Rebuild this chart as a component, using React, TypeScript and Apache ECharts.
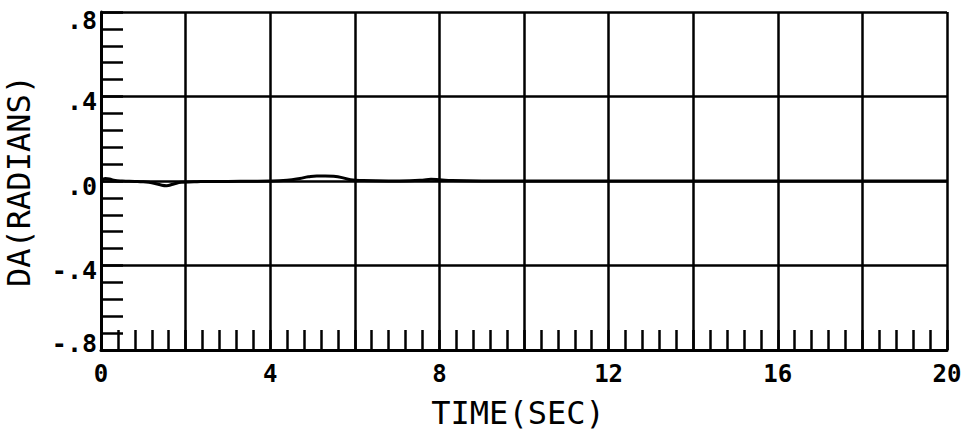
import React, { useEffect, useRef } from "react";
import * as echarts from "echarts";

const timeSec = [0, 0.1, 0.2, 0.3, 0.5, 0.8, 1.0, 1.2, 1.4, 1.55, 1.7, 1.9, 2.2, 2.6, 3.0, 3.5, 4.0, 4.4, 4.7, 4.9, 5.1, 5.3, 5.5, 5.7, 5.9, 6.2, 6.8, 7.3, 7.6, 7.8, 8.0, 8.3, 9, 10, 12, 14, 16, 18, 20];
const daRadians = [0, 0.012, 0.01, 0.004, 0.0, -0.002, -0.004, -0.008, -0.018, -0.022, -0.015, -0.006, -0.004, -0.002, -0.002, -0.001, 0, 0.004, 0.012, 0.02, 0.024, 0.024, 0.022, 0.016, 0.006, 0.002, 0, 0.001, 0.004, 0.008, 0.006, 0.002, 0, 0, 0, 0, 0, 0, 0];
const xLabelled = [0, 4, 8, 12, 16, 20];

const FONT = "'DejaVu Sans Mono', monospace";

export default function App() {
  const ref = useRef<HTMLDivElement>(null);
  useEffect(() => {
    if (!ref.current) return;
    const chart = echarts.init(ref.current, null, { renderer: "svg" });
    const lineStyle = { color: "#000", width: 2.5 };
    const labelStyle = { fontFamily: FONT, fontSize: 25, fontWeight: "bold", color: "#000" };
    chart.setOption({
      animation: false,
      backgroundColor: "#fff",
      grid: { left: 101, right: 19, top: 12, bottom: 81, outerBoundsMode: "none", containLabel: false },
      xAxis: {
        type: "value",
        min: 0,
        max: 20,
        interval: 2,
        name: "TIME(SEC)",
        nameLocation: "middle",
        nameGap: 47,
        nameTextStyle: { fontFamily: FONT, fontSize: 32, color: "#000", padding: [0, 12, 0, 0] },
        axisLine: { show: true, onZero: false, lineStyle: { color: "#000", width: 3 } },
        axisTick: { show: true, inside: true, length: 20, lineStyle },
        minorTick: { show: true, splitNumber: 5, length: 20, lineStyle },
        splitLine: { show: true, lineStyle },
        axisLabel: {
          ...labelStyle,
          fontSize: 24,
          margin: 12,
          formatter: (v: number) => (xLabelled.includes(Math.round(v)) ? String(Math.round(v)) : ""),
        },
      },
      yAxis: {
        type: "value",
        min: -0.8,
        max: 0.8,
        interval: 0.4,
        name: "DA(RADIANS)",
        nameLocation: "middle",
        nameGap: 66,
        nameTextStyle: { fontFamily: FONT, fontSize: 32, color: "#000" },
        axisLine: { show: true, lineStyle: { color: "#000", width: 3 } },
        axisTick: { show: true, inside: true, length: 22, lineStyle },
        minorTick: { show: true, splitNumber: 5, length: 22, lineStyle },
        splitLine: { show: true, lineStyle },
        axisLabel: {
          ...labelStyle,
          margin: 4,
          formatter: (v: number) => {
            const r = Math.round(v * 10) / 10;
            const s = r.toFixed(1);
            const t = s === "-0.0" ? ".0" : s.replace("0.", ".");
            if (r >= 0.8) return "{top|" + t + "}";
            if (r <= -0.8) return "{bot|" + t + "}";
            return "{mid|" + t + "}";
          },
          rich: {
            top: { ...labelStyle, padding: [16, 0, 0, 0] },
            bot: { ...labelStyle, padding: [0, 0, 14, 0] },
            mid: { ...labelStyle, padding: [10, 0, 0, 0] },
          },
        },
      },
      series: [
        {
          type: "line",
          data: timeSec.map((t, i) => [t, daRadians[i]]),
          showSymbol: false,
          smooth: true,
          lineStyle: { color: "#000", width: 3 },
        },
      ],
    });
    return () => chart.dispose();
  }, []);
  return <div ref={ref} style={{ position: "fixed", left: 0, top: 0, width: 966, height: 431 }} />;
}
